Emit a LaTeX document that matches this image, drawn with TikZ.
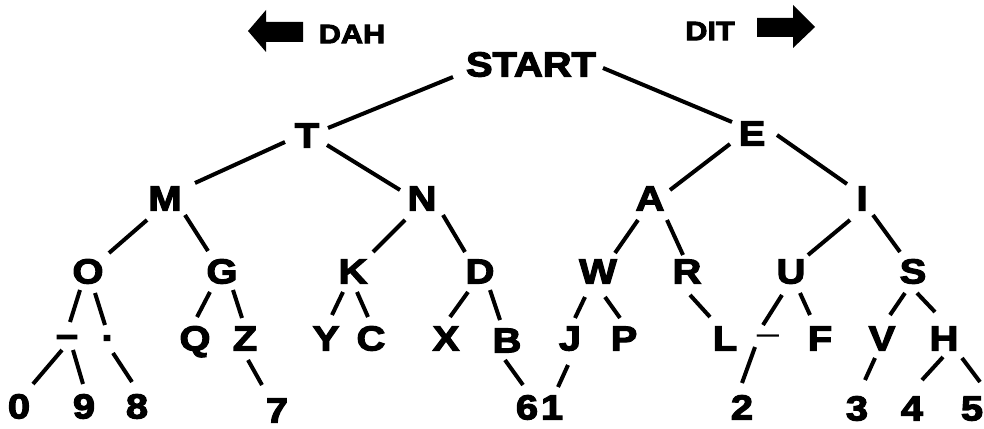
\documentclass[tikz,border=0pt]{standalone}
\usepackage{fontspec}
\newfontfamily\mf[FakeStretch=1.15,FakeBold=3.5]{Liberation Sans Bold}
\newfontfamily\mfthin[FakeStretch=1.2]{Liberation Sans}
\usetikzlibrary{calc}
\newcommand\edg[4]{\draw[edge] ($(#1)+(#2)$) -- ($(#3)+(#4)$);}
\begin{document}
\begin{tikzpicture}[x=0.75pt,y=-0.75pt,
  lt/.style={inner sep=0pt,font=\mf\fontsize{26}{26}\selectfont,text height=18.6pt,text depth=0pt},
  lbl/.style={inner sep=0pt,font=\mf\fontsize{20}{20}\selectfont},
  dashnode/.style={inner sep=0pt,font=\mf\fontsize{26}{26}\selectfont,text height=14pt,text depth=0pt},
  thindash/.style={inner sep=0pt,font=\mfthin\fontsize{25}{25}\selectfont,text height=13.5pt,text depth=0pt},
  dotnode/.style={inner sep=0pt,font=\mf\fontsize{26}{26}\selectfont},
  edge/.style={line width=3pt},
  bigarrow/.style={fill=black}]
\fill[white] (0,0) rectangle (984,428);
\useasboundingbox (0,0) rectangle (984,428);
\clip (0,0) rectangle (984,428);
% direction arrows
\fill[bigarrow] (248,31) -- (266,10) -- (266,22) -- (303,22) -- (303,42) -- (266,42) -- (266,52) -- cycle;
\fill[bigarrow] (815,27) -- (793,5) -- (793,18) -- (757,18) -- (757,37) -- (793,37) -- (793,48) -- cycle;
\node[lbl] (dah) at (352,34) {DAH};
\node[lbl] (dit) at (710,31) {DIT};
% tree
\node[lt] (st) at (531,64) {START};
\node[lt] (t) at (307,135) {T};
\node[lt] (e) at (752,133) {E};
\node[lt] (m) at (165,198) {M};
\node[lt] (n) at (422,198) {N};
\node[lt] (a) at (650,198) {A};
\node[lt] (i) at (862,198) {I};
\node[lt] (o) at (88,271) {O};
\node[lt] (g) at (222,271) {G};
\node[lt] (k) at (353,271) {K};
\node[lt] (d) at (480,271) {D};
\node[lt] (w) at (598,271) {W};
\node[lt] (r) at (687,271) {R};
\node[lt] (u) at (791,271) {U};
\node[lt] (s) at (913,271) {S};
\node[dashnode] (dsh) at (67,337) {–};
\node[dotnode] (dot) at (107,338) {.};
\node[lt] (q) at (195,338) {Q};
\node[lt] (z) at (245,338) {Z};
\node[lt] (y) at (326,338) {Y};
\node[lt] (c) at (371,338) {C};
\node[lt] (x) at (446,338) {X};
\node[lt] (b) at (507,340) {B};
\node[lt] (j) at (570,338) {J};
\node[lt] (p) at (624,338) {P};
\node[lt] (l) at (725,338) {L};
\node[thindash] (und) at (768,335) {–};
\node[lt] (f) at (820,338) {F};
\node[lt] (v) at (882,338) {V};
\node[lt] (h) at (944,338) {H};
\node[lt] (n0) at (19,406) {0};
\node[lt] (n9) at (84,406) {9};
\node[lt] (n8) at (137,406) {8};
\node[lt] (n7) at (277,410) {7};
\node[lt] (n6) at (527,407) {6};
\node[lt] (n1) at (552,407) {1};
\node[lt] (n2) at (742,407) {2};
\node[lt] (n3) at (857,408) {3};
\node[lt] (n4) at (912,408) {4};
\node[lt] (n5) at (972,408) {5};
% connectors
\edg{st}{-78,13}{t}{21,-7}
\edg{st}{72,4}{e}{-20,-11}
\edg{t}{-22,7}{m}{30,-15}
\edg{t}{20,10}{n}{-22,-8}
\edg{e}{-22,11}{a}{20,-8}
\edg{e}{25,2}{i}{-15,-14}
\edg{m}{-18,22}{o}{21,-18}
\edg{m}{20,17}{g}{-14,-20}
\edg{n}{-17,22}{k}{20,-19}
\edg{n}{21,17}{d}{-15,-19}
\edg{a}{-12,22}{w}{17,-18}
\edg{a}{17,22}{r}{-4,-16}
\edg{i}{-12,22}{u}{17,-16}
\edg{i}{11,17}{s}{-13,-19}
\edg{o}{-8,19}{dsh}{3,-15}
\edg{o}{7,22}{dot}{-2,-13}
\edg{dsh}{-5,13}{n0}{14,-22}
\edg{dsh}{6,13}{n9}{-1,-22}
\edg{dot}{6,15}{n8}{-5,-24}
\edg{g}{-12,21}{q}{2,-21}
\edg{g}{11,19}{z}{-3,-20}
\edg{z}{3,22}{n7}{-15,-25}
\edg{k}{-10,21}{y}{6,-23}
\edg{k}{4,21}{c}{-3,-21}
\edg{d}{-12,21}{x}{4,-21}
\edg{d}{10,19}{b}{-7,-20}
\edg{b}{-2,20}{n6}{-4,-22}
\edg{j}{-2,27}{n1}{6,-20}
\edg{w}{-13,26}{j}{5,-20}
\edg{w}{7,26}{p}{-4,-20}
\edg{r}{3,24}{l}{-15,-21}
\edg{u}{-9,24}{und}{-5,-10}
\edg{u}{9,22}{f}{-10,-23}
\edg{und}{-13,12}{n2}{0,-24}
\edg{s}{-8,22}{v}{8,-23}
\edg{s}{4,22}{h}{-9,-26}
\edg{v}{-7,20}{n3}{8,-28}
\edg{h}{-1,19}{n4}{10,-28}
\edg{h}{18,20}{n5}{8,-26}
\end{tikzpicture}
\end{document}
